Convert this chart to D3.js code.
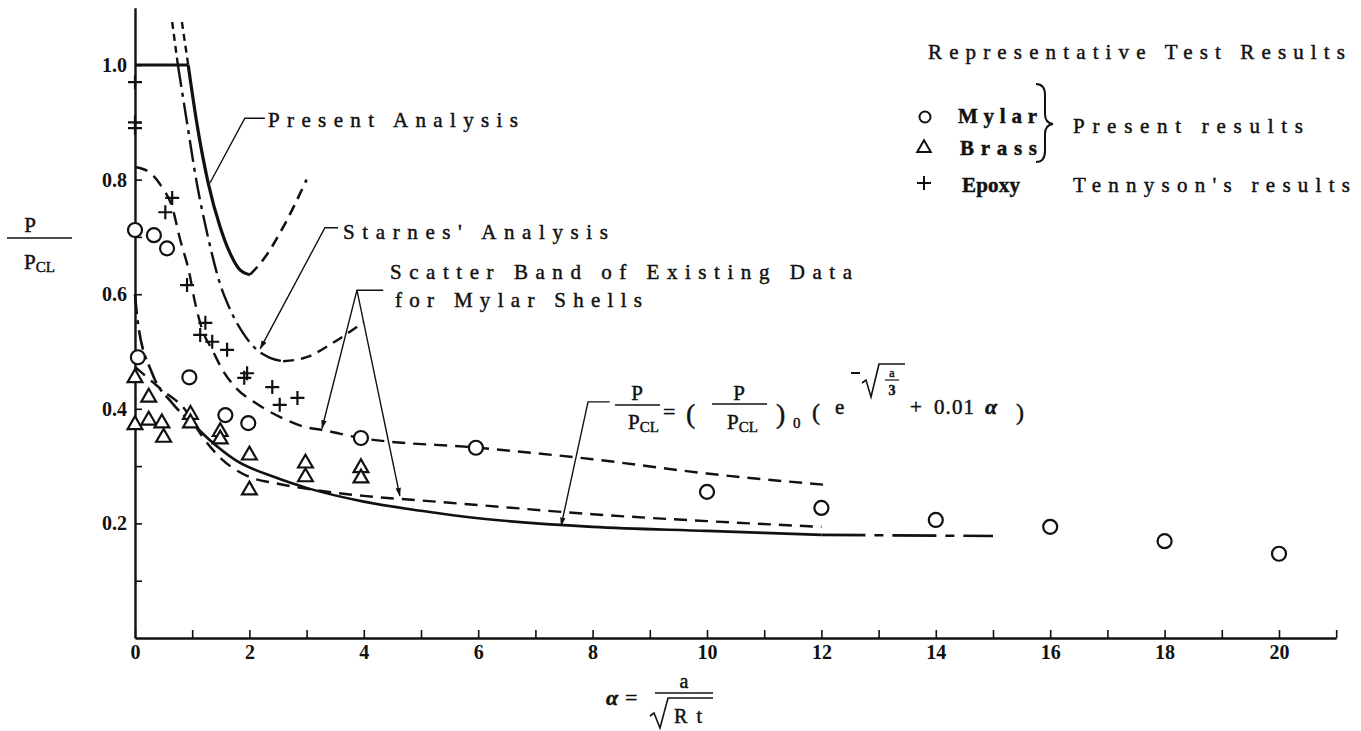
<!DOCTYPE html>
<html>
<head>
<meta charset="utf-8">
<script src="https://cdn.jsdelivr.net/npm/d3@7"></script>
<style>
  html, body { margin: 0; padding: 0; background: #fff; }
  svg { display: block; }
  .lbl { font-family: "Liberation Serif", "DejaVu Serif", serif; font-size: 21px; fill: #111; stroke: #111; stroke-width: 0.45px; }
  .axis path, .axis line { stroke: #111; }
  .axis text { font-family: "Liberation Serif", "DejaVu Serif", serif; font-size: 20px; font-weight: bold; fill: #111; }
</style>
</head>
<body>
<div id="chart"></div>
<script>
// ---- test results ----
var mylarX = [0, 0.05, 0.33, 0.56, 0.95, 1.58, 1.98, 3.95, 5.96, 10, 12, 14, 16, 18, 20];
var mylarY = [0.712, 0.49, 0.703, 0.68, 0.455, 0.389, 0.375, 0.349, 0.332, 0.255, 0.227, 0.206, 0.194, 0.169, 0.147];

var brassX = [0, 0, 0.24, 0.24, 0.47, 0.5, 0.97, 0.97, 1.49, 1.49, 2.0, 2.0, 2.98, 2.98, 3.95, 3.95];
var brassY = [0.454, 0.372, 0.42, 0.38, 0.375, 0.35, 0.39, 0.375, 0.36, 0.347, 0.319, 0.258, 0.305, 0.281, 0.297, 0.279];

var epoxyX = [0, 0, 0, 0.53, 0.65, 0.91, 1.14, 1.23, 1.35, 1.61, 1.91, 1.96, 2.4, 2.53, 2.84];
var epoxyY = [0.97, 0.90, 0.89, 0.743, 0.768, 0.616, 0.529, 0.55, 0.517, 0.503, 0.454, 0.462, 0.438, 0.407, 0.419];

// ---- curves ----
var presentFlatX = [0, 0.93];
var presentFlatY = [1.0, 1.0];
var presentX = [0.93, 1.08, 1.28, 1.49, 1.66, 1.84, 2.01];
var presentY = [1.0, 0.899, 0.794, 0.717, 0.672, 0.642, 0.634];
var presentRiseX = [2.01, 2.24, 2.59, 3.0];
var presentRiseY = [0.634, 0.66, 0.717, 0.80];
var presentTopX = [0.82, 0.93];
var presentTopY = [1.075, 1.0];

var starnesX = [0.75, 0.91, 1.08, 1.26, 1.49, 1.66, 1.89, 2.13, 2.36, 2.59];
var starnesY = [1.0, 0.899, 0.794, 0.707, 0.617, 0.574, 0.532, 0.503, 0.489, 0.483];
var starnesRiseX = [2.59, 3.0, 3.46, 3.99];
var starnesRiseY = [0.483, 0.49, 0.515, 0.551];
var starnesTopX = [0.65, 0.75];
var starnesTopY = [1.075, 1.0];

var bandUpX = [0, 0.25, 0.47, 0.65, 0.79, 0.95, 1.04, 1.18, 1.35, 1.53, 1.75, 2.11, 2.53, 2.98, 3.28, 3.95, 6, 8, 10, 12.1];
var bandUpY = [0.822, 0.813, 0.787, 0.752, 0.695, 0.637, 0.59, 0.537, 0.503, 0.468, 0.438, 0.41, 0.386, 0.368, 0.363, 0.349, 0.332, 0.312, 0.287, 0.267];

var bandLowX = [0, 0.47, 0.88, 1.18, 1.53, 2.0, 2.46, 2.9, 3.3, 4, 5, 6, 8, 10, 12];
var bandLowY = [0.473, 0.433, 0.398, 0.351, 0.311, 0.281, 0.27, 0.262, 0.256, 0.248, 0.24, 0.232, 0.216, 0.204, 0.194];

var fitX = [0, 0.05, 0.30, 0.65, 0.95, 1.30, 1.75, 2.46, 3, 4, 5, 6, 8, 10, 12, 15];
var fitY = [0.60, 0.55, 0.462, 0.41, 0.38, 0.346, 0.311, 0.28, 0.262, 0.238, 0.222, 0.209, 0.194, 0.187, 0.18, 0.178];

// ---- ticks ----
var xTickValues = d3.range(0, 22);
var xTickLabels = ["0", "2", "4", "6", "8", "10", "12", "14", "16", "18", "20"];
var yTickValues = [0.1, 0.2, 0.3, 0.4, 0.5, 0.6, 0.7, 0.8, 0.9, 1.0];
var yTickLabels = ["0.2", "0.4", "0.6", "0.8", "1.0"];

var width = 1361, height = 731;

var x = d3.scaleLinear().domain([0, 21]).range([135, 135 + 57.2 * 21]);
var y = d3.scaleLinear().domain([0, 1.1]).range([638, 638 - 573 * 1.1]);

var svg = d3.select("#chart").append("svg")
    .attr("width", width)
    .attr("height", height);

svg.append("rect").attr("width", width).attr("height", height).attr("fill", "#fff");

var defs = svg.append("defs");
defs.append("marker")
    .attr("id", "arrow")
    .attr("viewBox", "0 0 10 10")
    .attr("refX", 9).attr("refY", 5)
    .attr("markerWidth", 9).attr("markerHeight", 9)
    .attr("orient", "auto")
    .attr("markerUnits", "userSpaceOnUse")
  .append("path")
    .attr("d", "M0,2 L10,5 L0,8 Z")
    .attr("fill", "#111");

function pts(xs, ys) { return xs.map(function(v, i) { return [v, ys[i]]; }); }

var smooth = d3.line()
    .x(function(d) { return x(d[0]); })
    .y(function(d) { return y(d[1]); })
    .curve(d3.curveMonotoneX);

var straight = d3.line()
    .x(function(d) { return x(d[0]); })
    .y(function(d) { return y(d[1]); });

function curve(data, w, dash, gen) {
  svg.append("path")
      .datum(data)
      .attr("d", gen || smooth)
      .attr("fill", "none")
      .attr("stroke", "#111")
      .attr("stroke-width", w)
      .attr("stroke-dasharray", dash || null)
      .attr("stroke-linecap", "butt")
      .attr("stroke-linejoin", "round");
}

// axes
var xAxis = d3.axisBottom(x)
    .tickValues(xTickValues)
    .tickSizeInner(-8)
    .tickSizeOuter(0)
    .tickPadding(7)
    .tickFormat(function(d) { return d % 2 === 0 ? xTickLabels[d / 2] : ""; });

var yAxis = d3.axisLeft(y)
    .tickValues(yTickValues)
    .tickSizeInner(-7)
    .tickSizeOuter(0)
    .tickPadding(8)
    .tickFormat(function(d) {
      var k = Math.round(d * 10);
      return k % 2 === 0 ? yTickLabels[k / 2 - 1] : "";
    });

svg.append("g")
    .attr("class", "axis axis--x")
    .attr("transform", "translate(0," + y(0) + ")")
    .call(xAxis)
    .call(function(g) { g.select(".domain").attr("stroke-width", 2.4); g.selectAll(".tick line").attr("stroke-width", 1.6); });

svg.append("g")
    .attr("class", "axis axis--y")
    .attr("transform", "translate(" + x(0) + ",0)")
    .call(yAxis)
    .call(function(g) { g.select(".domain").attr("stroke-width", 2.4); g.selectAll(".tick line").attr("stroke-width", 1.6); });

// analysis curves
curve(pts(presentFlatX, presentFlatY), 3.2, null, straight);
curve(pts(presentX, presentY), 3.2);
curve(pts(presentRiseX, presentRiseY), 2.6, "11,7");
curve(pts(presentTopX, presentTopY), 2.4, "7,5", straight);

curve(pts(starnesX, starnesY), 2.4, "22,6,4,6");
curve(pts(starnesRiseX, starnesRiseY), 2.4, "11,7");
curve(pts(starnesTopX, starnesTopY), 2.4, "7,5", straight);

curve(pts(bandUpX, bandUpY), 2.4, "13,8");
curve(pts(bandLowX, bandLowY), 2.4, "13,8");

var fitAll = pts(fitX, fitY);
curve(fitAll.filter(function(d) { return d[0] <= 0.95; }), 2.6, "20,6,4,6");
curve(fitAll.filter(function(d) { return d[0] >= 0.95 && d[0] <= 12; }), 2.6);
curve(fitAll.filter(function(d) { return d[0] >= 12; }), 2.6, "44,9,9,9");

// markers
svg.append("g").selectAll("circle")
    .data(pts(mylarX, mylarY))
  .enter().append("circle")
    .attr("cx", function(d) { return x(d[0]); })
    .attr("cy", function(d) { return y(d[1]); })
    .attr("r", 7)
    .attr("fill", "#fff")
    .attr("stroke", "#111")
    .attr("stroke-width", 2.2);

var tri = d3.symbol().type(d3.symbolTriangle).size(95);
svg.append("g").selectAll("path")
    .data(pts(brassX, brassY))
  .enter().append("path")
    .attr("d", tri)
    .attr("transform", function(d) { return "translate(" + x(d[0]) + "," + y(d[1]) + ")"; })
    .attr("fill", "#fff")
    .attr("stroke", "#111")
    .attr("stroke-width", 2.2);

svg.append("g").selectAll("path")
    .data(pts(epoxyX, epoxyY))
  .enter().append("path")
    .attr("d", "M-7,0H7M0,-7V7")
    .attr("transform", function(d) { return "translate(" + x(d[0]) + "," + y(d[1]) + ")"; })
    .attr("stroke", "#111")
    .attr("stroke-width", 2.2);

// leaders
function leader(points, arrow) {
  svg.append("path")
      .datum(points)
      .attr("d", straight)
      .attr("fill", "none")
      .attr("stroke", "#111")
      .attr("stroke-width", 1.4)
      .attr("marker-end", arrow ? "url(#arrow)" : null);
}
leader([[2.27, 0.907], [1.92, 0.907], [1.31, 0.794]], false);
leader([[3.55, 0.716], [3.32, 0.716], [2.19, 0.505]], true);
leader([[4.34, 0.607], [3.88, 0.607], [3.27, 0.366]], true);
leader([[3.88, 0.607], [4.63, 0.248]], true);
leader([[8.30, 0.412], [7.92, 0.412], [7.45, 0.196]], true);

// labels
function label(txt, px, py, len, opts) {
  opts = opts || {};
  var t = svg.append("text")
      .attr("class", "lbl")
      .attr("x", px)
      .attr("y", py)
      .text(txt);
  if (len) t.attr("textLength", len).attr("lengthAdjust", "spacing");
  if (opts.size) t.style("font-size", opts.size + "px");
  if (opts.weight) t.style("font-weight", opts.weight);
  if (opts.italic) t.style("font-style", "italic");
  if (opts.anchor) t.attr("text-anchor", opts.anchor);
  return t;
}

label("Present Analysis", 268, 127, 250);
label("Starnes' Analysis", 343, 239, 265);
label("Scatter Band of Existing Data", 390, 279, 462);
label("for Mylar Shells", 395, 307, 247);

// legend
label("Representative Test Results", 928, 59, 417);
svg.append("circle").attr("cx", 925).attr("cy", 117).attr("r", 5.5)
    .attr("fill", "#fff").attr("stroke", "#111").attr("stroke-width", 2);
label("Mylar", 958, 123, 79, {weight: "bold"});
svg.append("path").attr("d", d3.symbol().type(d3.symbolTriangle).size(80)())
    .attr("transform", "translate(924,148)")
    .attr("fill", "#fff").attr("stroke", "#111").attr("stroke-width", 2);
label("Brass", 960, 155, 77, {weight: "bold"});
svg.append("path").attr("d", "M-7,0H7M0,-7V7")
    .attr("transform", "translate(924,183)")
    .attr("stroke", "#111").attr("stroke-width", 2);
label("Epoxy", 962, 192, 58, {weight: "bold"});
svg.append("path")
    .attr("d", "M1036,84 Q1045,84 1045,95 L1045,114 Q1045,123 1053,124 Q1045,125 1045,134 L1045,151 Q1045,162 1036,162")
    .attr("fill", "none").attr("stroke", "#111").attr("stroke-width", 2);
label("Present results", 1073, 133, 230);
label("Tennyson's results", 1073, 192, 277);

// y axis title
label("P", 30, 232, null, {anchor: "middle"});
svg.append("line").attr("x1", 7).attr("x2", 72).attr("y1", 238).attr("y2", 238)
    .attr("stroke", "#111").attr("stroke-width", 1.4);
var pcl = label("P", 24, 269, null);
pcl.append("tspan").attr("dy", 3).style("font-size", "15px").text("CL");

// x axis title
label("\u03b1", 606, 705, null, {size: 22, italic: true, weight: "bold"});
label("=", 625, 705, null, {size: 22});
label("a", 684, 688, null, {size: 20, anchor: "middle"});
svg.append("line").attr("x1", 655).attr("x2", 713).attr("y1", 693).attr("y2", 693)
    .attr("stroke", "#111").attr("stroke-width", 1.4);
svg.append("path").attr("d", "M650,716 L654,713 L660,728 L668,698 L713,698")
    .attr("fill", "none").attr("stroke", "#111").attr("stroke-width", 1.6);
label("Rt", 674, 723, 28, {size: 20});

// formula
label("P", 637, 400, null, {anchor: "middle"});
svg.append("line").attr("x1", 615).attr("x2", 660).attr("y1", 405).attr("y2", 405)
    .attr("stroke", "#111").attr("stroke-width", 1.4);
var f1 = label("P", 628, 429, null);
f1.append("tspan").attr("dy", 3).style("font-size", "15px").text("CL");
label("=", 663, 419, null, {size: 22});
label("(", 686, 423, null, {size: 28});
label("P", 739, 400, null, {anchor: "middle"});
svg.append("line").attr("x1", 712).attr("x2", 767).attr("y1", 404).attr("y2", 404)
    .attr("stroke", "#111").attr("stroke-width", 1.4);
var f2 = label("P", 727, 429, null);
f2.append("tspan").attr("dy", 3).style("font-size", "15px").text("CL");
label(")", 776, 423, null, {size: 28});
label("0", 793, 428, null, {size: 15});
label("(", 812, 420, null, {size: 24});
label("e", 835, 414, null);
svg.append("line").attr("x1", 851).attr("x2", 860).attr("y1", 373).attr("y2", 373)
    .attr("stroke", "#111").attr("stroke-width", 2);
svg.append("path").attr("d", "M862,383 L866,380 L871,397 L879,364 L905,364")
    .attr("fill", "none").attr("stroke", "#111").attr("stroke-width", 1.6);
label("a", 892, 377, null, {size: 12, anchor: "middle"});
svg.append("line").attr("x1", 885).attr("x2", 899).attr("y1", 380).attr("y2", 380)
    .attr("stroke", "#111").attr("stroke-width", 1.2);
label("3", 892, 395, null, {size: 14, anchor: "middle", weight: "bold"});
label("+", 910, 414, null);
label("0.01", 934, 414, 40);
label("\u03b1", 985, 414, null, {size: 22, italic: true, weight: "bold"});
label(")", 1016, 420, null, {size: 24});
</script>
</body>
</html>
